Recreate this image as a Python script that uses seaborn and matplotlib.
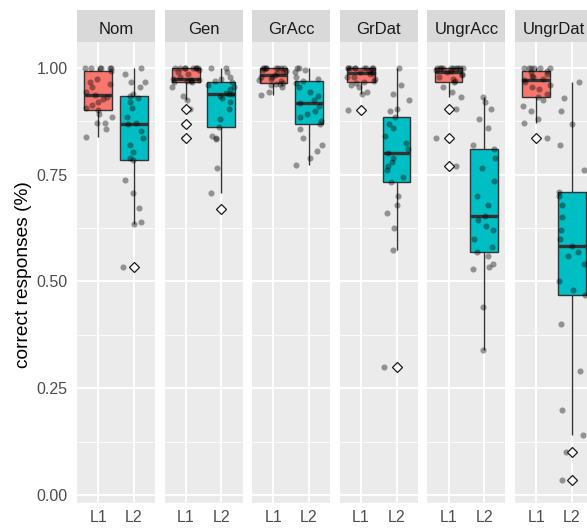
import numpy as np
import pandas as pd
import matplotlib
matplotlib.use("Agg")
import matplotlib.pyplot as plt
import seaborn as sns
from matplotlib.ticker import FixedLocator

sns.set_style("white")
plt.rcParams["font.family"] = ["Liberation Sans", "DejaVu Sans"]

# ---------------- data ----------------
facets = ["Nom", "Gen", "GrAcc", "GrDat", "UngrAcc", "UngrDat"]
groups = ["L1", "L2"]
y_ticks = [0.00, 0.25, 0.50, 0.75, 1.00]
y_tick_labels = ["0.00", "0.25", "0.50", "0.75", "1.00"]
y_label = "correct responses (%)"

nom_L1 = [0.838, 0.857, 0.871, 0.871, 0.886, 0.893, 0.902, 0.906, 0.914, 0.920, 0.927, 0.933, 0.937,
          0.944, 0.955, 0.962, 0.968, 0.975, 0.993, 1.0, 1.0, 1.0, 1.0, 1.0, 1.0]
nom_L2 = [0.534, 0.634, 0.639, 0.672, 0.707, 0.737, 0.784, 0.790, 0.803, 0.820, 0.836, 0.853, 0.869,
          0.871, 0.885, 0.906, 0.920, 0.930, 0.934, 0.939, 0.955, 0.968, 0.968, 0.985, 1.0]
gen_L1 = [0.837, 0.870, 0.903, 0.925, 0.935, 0.955, 0.968, 0.968, 0.970, 0.970, 0.972, 0.973, 0.974,
          0.980, 0.985, 0.990, 0.995, 1.0, 1.0, 1.0, 1.0, 1.0, 1.0, 1.0, 1.0]
gen_L2 = [0.670, 0.707, 0.765, 0.833, 0.836, 0.840, 0.862, 0.880, 0.905, 0.920, 0.930, 0.935, 0.939,
          0.940, 0.942, 0.950, 0.955, 0.960, 0.968, 0.970, 0.975, 0.980, 0.990, 1.0, 1.0]
gracc_L1 = [0.937, 0.945, 0.955, 0.960, 0.962, 0.963, 0.965, 0.970, 0.972, 0.975, 0.978, 0.980, 0.984,
            0.988, 0.990, 0.993, 0.995, 1.0, 1.0, 1.0, 1.0, 1.0, 1.0, 1.0, 1.0]
gracc_L2 = [0.773, 0.790, 0.805, 0.820, 0.836, 0.858, 0.869, 0.875, 0.885, 0.893, 0.900, 0.910, 0.918,
            0.925, 0.935, 0.945, 0.955, 0.965, 0.970, 0.975, 0.980, 0.990, 0.995, 1.0, 1.0]
grdat_L1 = [0.902, 0.939, 0.945, 0.955, 0.960, 0.965, 0.967, 0.970, 0.975, 0.978, 0.980, 0.985, 0.988,
            0.990, 0.993, 0.995, 1.0, 1.0, 1.0, 1.0, 1.0, 1.0, 1.0, 1.0, 1.0]
grdat_L2 = [0.300, 0.574, 0.625, 0.660, 0.680, 0.700, 0.733, 0.745, 0.760, 0.770, 0.780, 0.790, 0.801,
            0.810, 0.825, 0.840, 0.860, 0.870, 0.885, 0.900, 0.905, 0.925, 0.940, 0.960, 1.0]
ungracc_L1 = [0.770, 0.836, 0.904, 0.932, 0.945, 0.955, 0.967, 0.970, 0.975, 0.980, 0.983, 0.986, 0.990,
              0.993, 0.995, 1.0, 1.0, 1.0, 1.0, 1.0, 1.0, 1.0, 1.0, 1.0, 1.0]
ungracc_L2 = [0.339, 0.440, 0.530, 0.535, 0.540, 0.560, 0.569, 0.580, 0.600, 0.620, 0.630, 0.645, 0.653,
              0.680, 0.700, 0.735, 0.765, 0.790, 0.810, 0.820, 0.860, 0.880, 0.905, 0.920, 0.932]
ungrdat_L1 = [0.836, 0.871, 0.880, 0.900, 0.910, 0.925, 0.932, 0.940, 0.950, 0.955, 0.960, 0.968, 0.972,
              0.975, 0.978, 0.982, 0.985, 0.990, 0.993, 1.0, 1.0, 1.0, 1.0, 1.0, 1.0]
ungrdat_L2 = [0.035, 0.100, 0.140, 0.200, 0.290, 0.400, 0.468, 0.480, 0.500, 0.540, 0.560, 0.570, 0.583,
              0.600, 0.620, 0.650, 0.680, 0.700, 0.709, 0.760, 0.820, 0.870, 0.900, 0.930, 0.967]

series = {
    ("Nom", "L1"): nom_L1, ("Nom", "L2"): nom_L2,
    ("Gen", "L1"): gen_L1, ("Gen", "L2"): gen_L2,
    ("GrAcc", "L1"): gracc_L1, ("GrAcc", "L2"): gracc_L2,
    ("GrDat", "L1"): grdat_L1, ("GrDat", "L2"): grdat_L2,
    ("UngrAcc", "L1"): ungracc_L1, ("UngrAcc", "L2"): ungracc_L2,
    ("UngrDat", "L1"): ungrdat_L1, ("UngrDat", "L2"): ungrdat_L2,
}
rows = []
for (f, g), vals in series.items():
    for v in vals:
        rows.append({"facet": f, "group": g, "value": v})
df = pd.DataFrame(rows)

palette = {"L1": "#F8766D", "L2": "#00BFC4"}

# ---------------- layout (pixels) ----------------
W, H = 587, 532
fig = plt.figure(figsize=(W / 100, H / 100), dpi=100)
fig.patch.set_facecolor("white")

panel_left0 = 77.0
panel_step = 87.6
panel_w = 78.0
panel_top = 42.0
panel_bot = 503.0
strip_top = 10.0

np.random.seed(7)

for i, f in enumerate(facets):
    left = panel_left0 + i * panel_step
    ax = fig.add_axes([left / W, (H - panel_bot) / H, panel_w / W, (panel_bot - panel_top) / H])
    ax.set_facecolor("#EBEBEB")
    sub = df[df["facet"] == f]

    sns.boxplot(data=sub, x="group", y="value", hue="group", order=groups, hue_order=groups,
                palette=palette, saturation=1, width=0.78, dodge=False, legend=False,
                linecolor="#333333", linewidth=1.0, showcaps=False,
                medianprops=dict(linewidth=2.4, color="#333333"),
                flierprops=dict(marker="D", markersize=5.6, markerfacecolor="white",
                                markeredgecolor="#1a1a1a", markeredgewidth=0.9),
                ax=ax)
    for line in ax.lines:
        if line.get_marker() == "D":
            line.set_markerfacecolor("white")
            line.set_markeredgecolor("#1a1a1a")
            line.set_zorder(6)

    sns.stripplot(data=sub, x="group", y="value", order=groups, jitter=0.4, color="black",
                  alpha=0.38, size=4.4, linewidth=0, ax=ax, zorder=4)

    ax.set_xlim(-0.6, 1.6)
    ax.set_ylim(-0.019, 1.061)
    ax.set_axisbelow(True)
    ax.yaxis.set_major_locator(FixedLocator(y_ticks))
    ax.yaxis.set_minor_locator(FixedLocator([0.125, 0.375, 0.625, 0.875]))
    ax.grid(True, which="major", axis="both", color="white", linewidth=1.3)
    ax.grid(True, which="minor", axis="y", color="white", linewidth=0.6)
    for s in ax.spines.values():
        s.set_visible(False)
    ax.set_xlabel("")
    ax.set_ylabel("")
    ax.set_xticks([0, 1])
    ax.set_xticklabels(groups)
    ax.tick_params(axis="x", which="major", length=3.2, width=0.8, color="#333333",
                   labelsize=11.5, labelcolor="#4D4D4D", pad=1.5)
    if i == 0:
        ax.set_yticklabels(y_tick_labels)
        ax.tick_params(axis="y", which="major", length=4.3, width=0.8, color="#333333",
                       labelsize=11.5, labelcolor="#4D4D4D", pad=2.5)
    else:
        ax.tick_params(axis="y", which="major", left=False, labelleft=False)
    ax.tick_params(axis="y", which="minor", left=False)

    # facet strip
    sax = fig.add_axes([left / W, (H - panel_top) / H, panel_w / W, (panel_top - strip_top) / H])
    sax.set_facecolor("#D9D9D9")
    sax.set_xticks([])
    sax.set_yticks([])
    for s in sax.spines.values():
        s.set_visible(False)
    sax.text(0.5, 0.24, f, ha="center", va="baseline", fontsize=12, color="#1A1A1A",
             transform=sax.transAxes)

fig.text(24 / W, (H - 275) / H, y_label, rotation=90, ha="center", va="center",
         fontsize=13.8, color="black")

fig.savefig("out.png", dpi=100)
